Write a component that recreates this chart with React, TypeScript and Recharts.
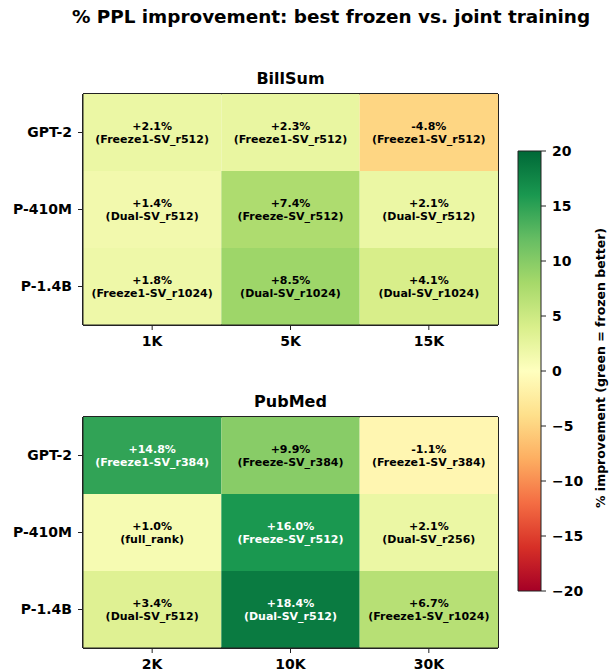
import React from 'react';
import { BarChart, Bar, XAxis, YAxis, Cell, LabelList, CartesianGrid } from 'recharts';

const ROWS = ['GPT-2', 'P-410M', 'P-1.4B'];

const BILLSUM_COLS = ['1K', '5K', '15K'];
const BILLSUM_VALUES = [
  [2.1, 2.3, -4.8],
  [1.4, 7.4, 2.1],
  [1.8, 8.5, 4.1],
];
const BILLSUM_CONFIGS = [
  ['Freeze1-SV_r512', 'Freeze1-SV_r512', 'Freeze1-SV_r512'],
  ['Dual-SV_r512', 'Freeze-SV_r512', 'Dual-SV_r512'],
  ['Freeze1-SV_r1024', 'Dual-SV_r1024', 'Dual-SV_r1024'],
];

const PUBMED_COLS = ['2K', '10K', '30K'];
const PUBMED_VALUES = [
  [14.8, 9.9, -1.1],
  [1.0, 16.0, 2.1],
  [3.4, 18.4, 6.7],
];
const PUBMED_CONFIGS = [
  ['Freeze1-SV_r384', 'Freeze-SV_r384', 'Freeze1-SV_r384'],
  ['full_rank', 'Freeze-SV_r512', 'Dual-SV_r256'],
  ['Dual-SV_r512', 'Dual-SV_r512', 'Freeze1-SV_r1024'],
];

const CB_MIN = -20;
const CB_MAX = 20;
const CB_TICKS = [-20, -15, -10, -5, 0, 5, 10, 15, 20];

const TITLE = '% PPL improvement: best frozen vs. joint training';
const CB_LABEL = '% improvement (green = frozen better)';

// matplotlib RdYlGn
const RDYLGN = [
  [165, 0, 38],
  [215, 48, 39],
  [244, 109, 67],
  [253, 174, 97],
  [254, 224, 139],
  [255, 255, 191],
  [217, 239, 139],
  [166, 217, 106],
  [102, 189, 99],
  [26, 152, 80],
  [0, 104, 55],
];

const FONT = '"DejaVu Sans", Verdana, sans-serif';

function colorFor(v: number): string {
  let t = (v - CB_MIN) / (CB_MAX - CB_MIN);
  t = Math.max(0, Math.min(1, t));
  const p = t * (RDYLGN.length - 1);
  const i = Math.min(RDYLGN.length - 2, Math.floor(p));
  const f = p - i;
  const a = RDYLGN[i];
  const b = RDYLGN[i + 1];
  const c = a.map((x, k) => Math.round(x + (b[k] - x) * f));
  return `rgb(${c[0]},${c[1]},${c[2]})`;
}

function fmt(v: number): string {
  return (v >= 0 ? '+' : '') + v.toFixed(1) + '%';
}

const renderCellLabel = (props: any) => {
  const vb = props.viewBox && props.viewBox.width != null ? props.viewBox : props;
  const { x, y, width, height } = vb;
  const parts = String(props.value).split('|');
  const v = Number(parts[0]);
  const cx = x + width / 2;
  const cy = y + height / 2;
  const fill = Math.abs(v) > 12 ? '#ffffff' : '#000000';
  return (
    <g>
      <text x={cx} y={cy - 6.5} textAnchor="middle" dominantBaseline="central" fill={fill}
        style={{ fontFamily: FONT, fontWeight: 'bold', fontSize: 11 }}>{fmt(v)}</text>
      <text x={cx} y={cy + 6.5} textAnchor="middle" dominantBaseline="central" fill={fill}
        style={{ fontFamily: FONT, fontWeight: 'bold', fontSize: 11 }}>{`(${parts[1]})`}</text>
    </g>
  );
};

const tickStyle = { fontFamily: FONT, fontWeight: 'bold', fontSize: 14, fill: '#000' } as any;

// frame lines at the plot-area edges (matplotlib spines)
const frameH = (p: any) => [p.offset.top, p.offset.top + p.offset.height];
const frameV = (p: any) => [p.offset.left, p.offset.left + p.offset.width];

function Heatmap({ cols, values, configs }: { cols: string[]; values: number[][]; configs: string[][] }) {
  const data = ROWS.map((row, r) => {
    const o: any = { row };
    cols.forEach((_, c) => {
      o[`w${c}`] = 1;
      o[`l${c}`] = `${values[r][c]}|${configs[r][c]}`;
    });
    return o;
  });
  const ticks = cols.map((_, i) => i + 0.5);
  return (
    <BarChart
      width={611}
      height={300}
      data={data}
      layout="vertical"
      barCategoryGap={0}
      barGap={0}
      margin={{ top: 34, right: 113, bottom: 5, left: 3 }}
    >
      <CartesianGrid
        horizontalCoordinatesGenerator={frameH}
        verticalCoordinatesGenerator={frameV}
        stroke="#222"
        strokeWidth={2}
        strokeDasharray=""
        fill="none"
      />
      <XAxis
        type="number"
        domain={[0, cols.length]}
        ticks={ticks}
        tickFormatter={(v: number) => cols[Math.floor(v)]}
        tick={tickStyle}
        tickSize={5}
        tickMargin={6}
        height={30}
        stroke="#222"
        tickLine={{ stroke: '#222' }}
        axisLine={{ stroke: '#222', strokeWidth: 1 }}
        allowDataOverflow
      />
      <YAxis
        type="category"
        dataKey="row"
        width={80}
        tick={tickStyle}
        tickSize={5}
        tickMargin={6}
        stroke="#222"
        tickLine={{ stroke: '#222' }}
        axisLine={{ stroke: '#222', strokeWidth: 1 }}
      />
      {cols.map((_, c) => (
        <Bar key={c} dataKey={`w${c}`} stackId="s" isAnimationActive={false}>
          {data.map((_, r) => (
            <Cell key={r} fill={colorFor(values[r][c])} />
          ))}
          <LabelList dataKey={`l${c}`} content={renderCellLabel} />
        </Bar>
      ))}
    </BarChart>
  );
}

function ColorBar() {
  const data = [{ k: 'cb', r: [CB_MIN, CB_MAX] }];
  return (
    <BarChart
      width={111}
      height={470}
      data={data}
      barCategoryGap={0}
      barGap={0}
      margin={{ top: 11, right: 30, bottom: 19, left: 18 }}
    >
      <defs>
        <linearGradient id="rdylgn" x1="0" y1="1" x2="0" y2="0">
          {RDYLGN.map((c, i) => (
            <stop key={i} offset={`${(i / (RDYLGN.length - 1)) * 100}%`} stopColor={`rgb(${c[0]},${c[1]},${c[2]})`} />
          ))}
        </linearGradient>
      </defs>
      <XAxis dataKey="k" type="category" hide />
      <YAxis
        orientation="right"
        type="number"
        domain={[CB_MIN, CB_MAX]}
        ticks={CB_TICKS}
        tickFormatter={(v: number) => String(v).replace('-', '\u2212')}
        tick={tickStyle}
        tickSize={5}
        tickMargin={6}
        width={40}
        axisLine={false}
        tickLine={{ stroke: '#222' }}
        interval={0}
      />
      <Bar dataKey="r" fill="url(#rdylgn)" stroke="#222" strokeWidth={1} isAnimationActive={false} />
    </BarChart>
  );
}

export default function App() {
  return (
    <div style={{ position: 'absolute', left: 0, top: 0, width: 611, height: 672, background: '#fff', fontFamily: FONT }}>
      <div style={{ position: 'absolute', left: 331, top: 7, transform: 'translateX(-50%)', whiteSpace: 'nowrap', fontSize: 18.4, lineHeight: '20px', fontWeight: 'bold' }}>
        {TITLE}
      </div>
      <div style={{ position: 'absolute', left: 290.5, top: 69, transform: 'translateX(-50%)', whiteSpace: 'nowrap', fontSize: 16, lineHeight: '20px', fontWeight: 'bold' }}>
        BillSum
      </div>
      <div style={{ position: 'absolute', left: 290.5, top: 392, transform: 'translateX(-50%)', whiteSpace: 'nowrap', fontSize: 16, lineHeight: '20px', fontWeight: 'bold' }}>
        PubMed
      </div>
      <div style={{ position: 'absolute', left: 0, top: 60 }}>
        <Heatmap cols={BILLSUM_COLS} values={BILLSUM_VALUES} configs={BILLSUM_CONFIGS} />
      </div>
      <div style={{ position: 'absolute', left: 0, top: 383 }}>
        <Heatmap cols={PUBMED_COLS} values={PUBMED_VALUES} configs={PUBMED_CONFIGS} />
      </div>
      <div style={{ position: 'absolute', left: 500, top: 140 }}>
        <ColorBar />
      </div>
      <div style={{ position: 'absolute', left: 601, top: 368, transform: 'translate(-50%, -50%) rotate(-90deg)', whiteSpace: 'nowrap', fontSize: 12.5, lineHeight: '14px', fontWeight: 'bold' }}>
        {CB_LABEL}
      </div>
    </div>
  );
}
